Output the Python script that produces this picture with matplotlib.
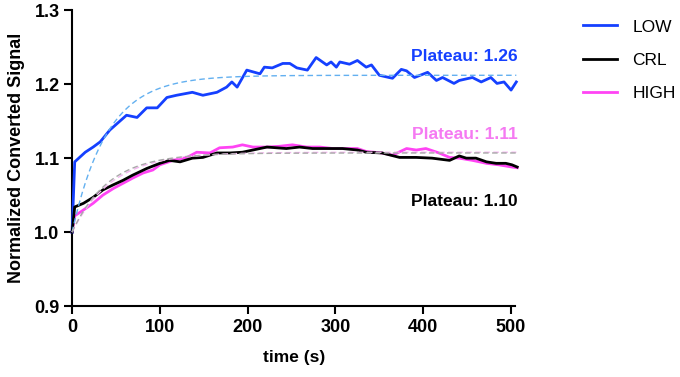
import matplotlib
matplotlib.use("Agg")
import matplotlib.pyplot as plt
import numpy as np

plt.rcParams['font.family'] = ['Liberation Sans', 'DejaVu Sans']

# ---- data ----
low_t = [0, 3, 15, 24, 32, 43, 62, 74, 85, 97, 108, 119, 137, 149, 165, 176, 182, 188, 199, 214,
         219, 228, 240, 248, 256, 268, 278, 290, 295, 301, 305, 316, 325, 335, 341, 350, 361, 365,
         375, 381, 390, 405, 415, 422, 435, 441, 456, 466, 477, 484, 492, 500, 506]
low_v = [1.000, 1.095, 1.108, 1.115, 1.122, 1.138, 1.158, 1.155, 1.168, 1.168, 1.182, 1.185, 1.189,
         1.185, 1.189, 1.196, 1.203, 1.196, 1.219, 1.214, 1.223, 1.222, 1.228, 1.228, 1.222, 1.219,
         1.236, 1.226, 1.230, 1.223, 1.230, 1.227, 1.232, 1.223, 1.226, 1.212, 1.209, 1.208, 1.220,
         1.218, 1.209, 1.216, 1.205, 1.209, 1.201, 1.205, 1.209, 1.203, 1.209, 1.201, 1.203, 1.192,
         1.203]

crl_t = [0, 3, 13, 24, 35, 47, 58, 69, 85, 100, 111, 123, 137, 149, 165, 180, 194, 206, 222, 244,
         259, 274, 290, 308, 325, 335, 353, 373, 392, 410, 430, 441, 449, 460, 472, 483, 494, 501, 507]
crl_v = [1.000, 1.034, 1.039, 1.047, 1.057, 1.064, 1.070, 1.077, 1.086, 1.093, 1.097, 1.095, 1.100,
         1.101, 1.107, 1.107, 1.108, 1.111, 1.115, 1.113, 1.115, 1.113, 1.113, 1.113, 1.111, 1.108,
         1.107, 1.101, 1.101, 1.100, 1.097, 1.103, 1.100, 1.100, 1.095, 1.093, 1.093, 1.091, 1.088]

high_t = [0, 3, 13, 24, 35, 47, 58, 69, 81, 92, 100, 115, 131, 142, 157, 168, 183, 194, 206, 222,
          236, 251, 267, 282, 297, 313, 325, 335, 353, 365, 381, 392, 403, 418, 430, 441, 456, 472,
          486, 501, 507]
high_v = [1.000, 1.022, 1.030, 1.039, 1.050, 1.059, 1.066, 1.073, 1.080, 1.084, 1.091, 1.097, 1.101,
          1.108, 1.107, 1.114, 1.115, 1.118, 1.115, 1.115, 1.116, 1.118, 1.115, 1.115, 1.113, 1.113,
          1.113, 1.109, 1.107, 1.104, 1.113, 1.111, 1.113, 1.107, 1.101, 1.100, 1.097, 1.093, 1.091,
          1.088, 1.087]

# one-phase association fit parameters (Y0, plateau, K)
fit_low = (1.0, 1.212, 0.025)
fit_crl = (1.0, 1.107, 0.024)
fit_high = (1.0, 1.108, 0.022)

labels = ["LOW", "CRL", "HIGH"]
plateau_texts = ["Plateau: 1.26", "Plateau: 1.11", "Plateau: 1.10"]
plateau_y = [1.237, 1.132, 1.041]

c_low, c_crl, c_high = '#1540FF', '#000000', '#FF44F4'
c_low_fit, c_crl_fit, c_high_fit = '#63B0F0', '#A8A8A8', '#F4B6F0'
plateau_colors = [c_low, '#F57AF2', '#000000']

fig = plt.figure(figsize=(6.8, 3.77), dpi=100)
ax = fig.add_axes([0.106, 0.188, 0.652, 0.785])

tf = np.linspace(0, 506, 400)
def onephase(p, t):
    y0, pl, k = p
    return y0 + (pl - y0) * (1 - np.exp(-k * t))

ax.plot(low_t, low_v, color=c_low, lw=2.0, label=labels[0], clip_on=False, zorder=3)
ax.plot(crl_t, crl_v, color=c_crl, lw=2.0, label=labels[1], clip_on=False, zorder=3)
ax.plot(high_t, high_v, color=c_high, lw=2.0, label=labels[2], clip_on=False, zorder=2)

ax.plot(tf, onephase(fit_low, tf), color=c_low_fit, lw=1.0, ls=(0, (4, 2.5)), clip_on=False, zorder=4)
ax.plot(tf, onephase(fit_high, tf), color=c_high_fit, lw=1.0, ls=(0, (4, 2.5)), clip_on=False, zorder=4)
ax.plot(tf, onephase(fit_crl, tf), color=c_crl_fit, lw=1.0, ls=(0, (4, 2.5)), clip_on=False, zorder=4)

ax.set_xlim(0, 505)
ax.set_ylim(0.9, 1.3)
ax.set_xticks([0, 100, 200, 300, 400, 500])
ax.set_yticks([0.9, 1.0, 1.1, 1.2, 1.3])
ax.set_yticklabels(['0.9', '1.0', '1.1', '1.2', '1.3'])

for s in ['top', 'right']:
    ax.spines[s].set_visible(False)
for s in ['left', 'bottom']:
    ax.spines[s].set_linewidth(1.5)
ax.tick_params(axis='both', width=1.5, length=6, labelsize=13, pad=3)
for lab in ax.get_xticklabels() + ax.get_yticklabels():
    lab.set_fontweight('bold')

ax.set_xlabel('time (s)', fontsize=12.5, fontweight='bold', labelpad=10)
ax.set_ylabel('Normalized Converted Signal', fontsize=13, fontweight='bold', labelpad=7)

for txt, yv, col in zip(plateau_texts, plateau_y, plateau_colors):
    ax.text(1.006, yv, txt, color=col, fontsize=12.5, fontweight='bold',
            ha='right', va='center', transform=ax.get_yaxis_transform())

leg = fig.legend(loc='upper left', bbox_to_anchor=(0.834, 0.99), frameon=False, fontsize=12.5,
                 handlelength=1.95, handletextpad=0.9, labelspacing=1.05)

fig.savefig('out.png', dpi=100)
